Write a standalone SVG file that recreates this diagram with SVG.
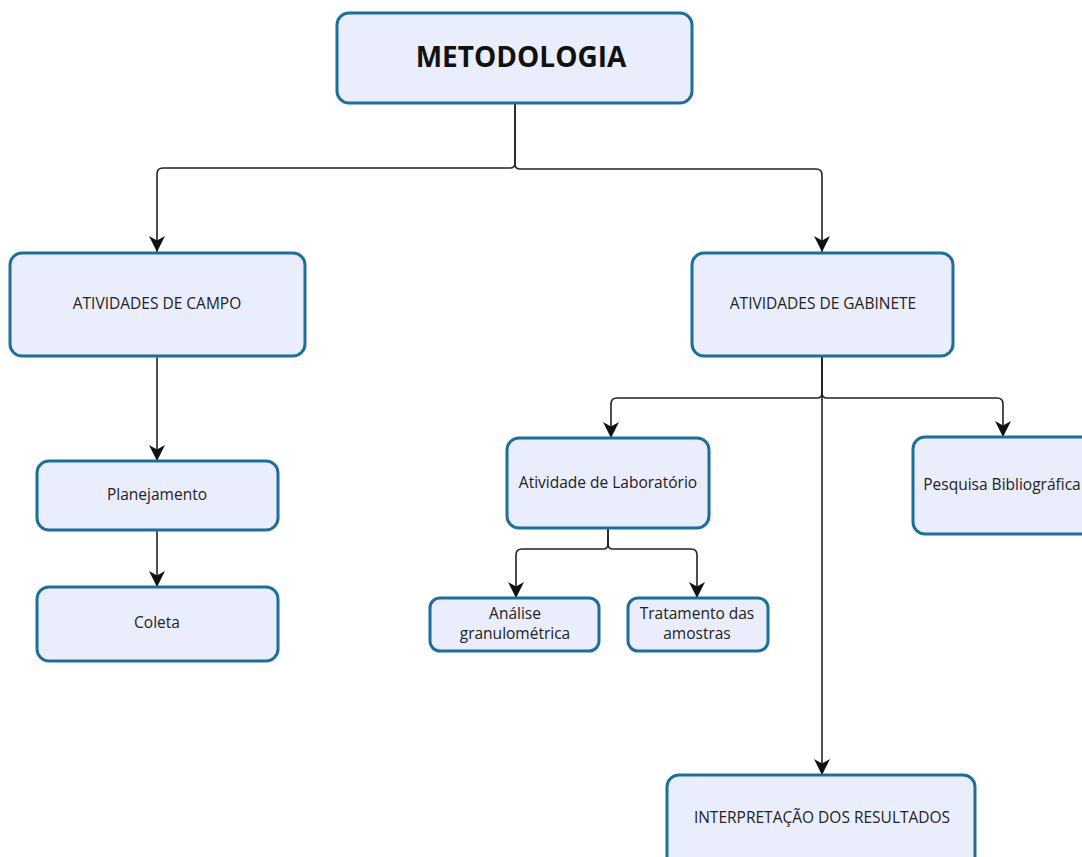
<svg xmlns="http://www.w3.org/2000/svg" width="1082" height="857" viewBox="0 0 1082 857">
<style>
.box{fill:#e9edfc;stroke:#1d6e98;stroke-width:3}
.t{font-family:"Open Sans","Noto Sans","DejaVu Sans",sans-serif;font-size:15.5px;fill:#222;text-anchor:middle}
.title{font-family:"Open Sans","Noto Sans","DejaVu Sans",sans-serif;font-size:28px;font-weight:bold;fill:#111;text-anchor:middle}
.c{fill:none;stroke:#222;stroke-width:1.6}
</style>
<defs>
<marker id="arr" markerUnits="userSpaceOnUse" markerWidth="18" markerHeight="18" refX="16" refY="9" orient="auto">
<path d="M0,1 L16,9 L0,17 L4.5,9 z" fill="#111"/>
</marker>
</defs>
<rect width="1082" height="857" fill="#fff"/>
<g id="connectors">
<path class="c" marker-end="url(#arr)" d="M515,103 V163 Q515,168 510,168 H163 Q157,168 157,174 V252"/>
<path class="c" marker-end="url(#arr)" d="M515,103 V164 Q515,169 520,169 H816 Q822,169 822,175 V252"/>
<path class="c" marker-end="url(#arr)" d="M157,357 V461"/>
<path class="c" marker-end="url(#arr)" d="M157,531 V587"/>
<path class="c" marker-end="url(#arr)" d="M822,357 V393 Q822,398 817,398 H617 Q611,398 611,404 V438"/>
<path class="c" marker-end="url(#arr)" d="M822,357 V393 Q822,398 827,398 H997 Q1003,398 1003,404 V437"/>
<path class="c" marker-end="url(#arr)" d="M822,357 V775"/>
<path class="c" marker-end="url(#arr)" d="M608,528 V544 Q608,549 603,549 H522 Q516,549 516,555 V598"/>
<path class="c" marker-end="url(#arr)" d="M608,528 V544 Q608,549 613,549 H691 Q697,549 697,555 V598"/>
</g>
<g id="metodologia">
<rect class="box" x="337" y="13" width="355" height="90" rx="12"/>
<text class="title" x="521" y="67">METODOLOGIA</text>
</g>
<g id="campo">
<rect class="box" x="10" y="253" width="295" height="103" rx="12"/>
<text class="t" x="157" y="309">ATIVIDADES DE CAMPO</text>
</g>
<g id="gabinete">
<rect class="box" x="692" y="253" width="261" height="103" rx="12"/>
<text class="t" x="823" y="309">ATIVIDADES DE GABINETE</text>
</g>
<g id="planejamento">
<rect class="box" x="37" y="461" width="241" height="69" rx="12"/>
<text class="t" x="157" y="500">Planejamento</text>
</g>
<g id="coleta">
<rect class="box" x="37" y="587" width="241" height="74" rx="12"/>
<text class="t" x="157" y="628">Coleta</text>
</g>
<g id="laboratorio">
<rect class="box" x="507" y="438" width="202" height="90" rx="12"/>
<text class="t" x="608" y="488">Atividade de Laboratório</text>
</g>
<g id="pesquisa">
<rect class="box" x="913" y="437" width="180" height="97" rx="12"/>
<text class="t" x="1002" y="490">Pesquisa Bibliográfica</text>
</g>
<g id="analise">
<rect class="box" x="430" y="598" width="169" height="53" rx="10"/>
<text class="t" x="515" y="619">Análise</text>
<text class="t" x="515" y="639">granulométrica</text>
</g>
<g id="tratamento">
<rect class="box" x="628" y="598" width="140" height="53" rx="10"/>
<text class="t" x="697" y="619">Tratamento das</text>
<text class="t" x="697" y="639">amostras</text>
</g>
<g id="interpretacao">
<rect class="box" x="667" y="775" width="308" height="95" rx="12"/>
<text class="t" x="822" y="823">INTERPRETAÇÃO DOS RESULTADOS</text>
</g>
</svg>
